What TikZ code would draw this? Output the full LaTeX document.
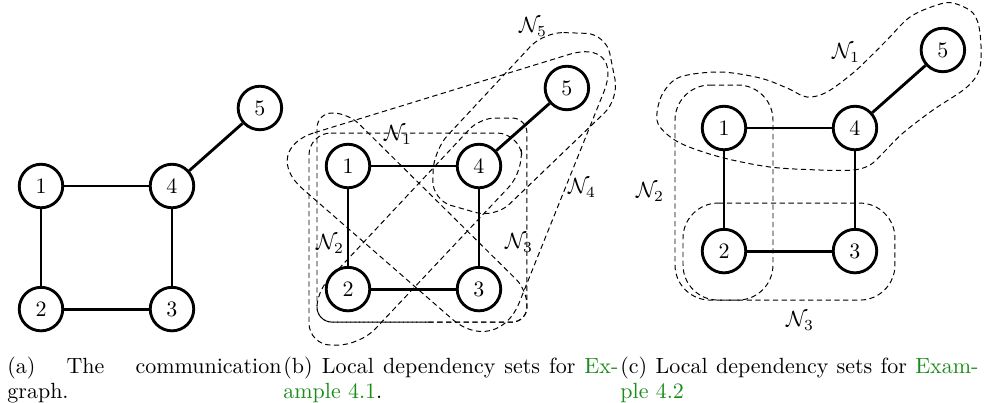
\documentclass[tikz,border=0pt]{standalone}
\usetikzlibrary{positioning,calc}
\definecolor{linkgreen}{rgb}{0.1,0.55,0.1}
\tikzset{
  vertex/.style={circle, draw, line width=1.3pt, minimum size=19.8pt, inner sep=0pt},
  link/.style={draw=black, line width=1.3pt},
  hull/.style={draw=black, line width=0.45pt, dash pattern=on 2.4pt off 1.6pt},
  setlabel/.style={inner sep=0pt},
  caption/.style={anchor=north west, inner sep=0pt, align=left},
}
\begin{document}
\begin{tikzpicture}[x=0.455pt, y=-0.455pt, node distance=56pt and 59.6pt, on grid]
  \useasboundingbox (0,0) rectangle (986,402);

  % (a) the communication graph
  \begin{scope}[every node/.style=vertex]
    \node (a1) at (41,186) {1};
    \node (a4) [right=of a1] {4};
    \node (a2) [below=of a1] {2};
    \node (a3) [right=of a2] {3};
    \node (a5) [above right=35.5pt and 40pt of a4] {5};
  \end{scope}
  \begin{scope}[every edge/.style=link]
    \path (a1) edge (a4);
    \path (a1) edge (a2);
    \path (a2) edge (a3);
    \path (a3) edge (a4);
    \path (a4) edge (a5);
  \end{scope}

  % (b) local dependency sets, example 4.1
  \begin{scope}[every node/.style=vertex]
    \node (b1) at (348,166) {1};
    \node (b4) [right=of b1] {4};
    \node (b2) [below=of b1] {2};
    \node (b3) [right=of b2] {3};
    \node (b5) [above right=35.5pt and 40pt of b4] {5};
  \end{scope}
  \begin{scope}[every edge/.style=link]
    \path (b1) edge (b4);
    \path (b1) edge (b2);
    \path (b2) edge (b3);
    \path (b3) edge (b4);
    \path (b4) edge (b5);
  \end{scope}
  % N1 = {1,2,4}
  \draw[hull, rounded corners=10pt] ($(b1)+(-39,-33)$) -- ($(b4)+(40,-33)$)
    -- ($(b4)+(45,5)$) -- ($(b2)+(12,56)$) -- ($(b2)+(-39,56)$) -- cycle;
  % N2 = {1,2,3}
  \draw[hull, rounded corners=6.8pt] ($(b2)!0.5!(b3)+(0,33)$) -- ($(b3)+(48,33)$)
    -- ($(b3)+(48,1)$) -- ($(b1)+(0,-53)$) -- ($(b1)+(-31,-53)$)
    -- ($(b2)+(-31,33)$) -- cycle;
  % N3 = {2,3,4}
  \draw[hull, rounded corners=6.8pt] ($(b2)!0.5!(b3)+(0,33)$) -- ($(b3)+(48,33)$)
    -- ($(b4)+(48,-48)$) -- ($(b4)+(1,-48)$) -- ($(b2)+(-31,3)$)
    -- ($(b2)+(-31,33)$) -- cycle;
  % N4 = {1,3,4,5}
  \draw[hull, rounded corners=27pt] ($(b1)+(-90,-16)$) -- ($(b5)+(59,-51)$)
    -- ($(b3)+(18,69)$) -- cycle;
  % N5 = {4,5}
  \draw[hull, rounded corners=9pt] ($(b5)+(-23,-56)$) -- ($(b5)+(39,-54)$)
    -- ($(b5)+(52,11)$) -- ($(b4)+(16,52)$) -- ($(b4)+(-47,34)$)
    -- ($(b4)+(-45,-16)$) -- cycle;
  \node[setlabel] (lb1) at (398,135) {$\mathcal{N}_1$};
  \node[setlabel] (lb2) at (330,244) {$\mathcal{N}_2$};
  \node[setlabel] (lb3) at (519,243) {$\mathcal{N}_3$};
  \node[setlabel] (lb4) at (582,188) {$\mathcal{N}_4$};
  \node[setlabel] (lb5) at (533,27) {$\mathcal{N}_5$};

  % (c) local dependency sets, example 4.2
  \begin{scope}[every node/.style=vertex]
    \node (c1) at (724,128) {1};
    \node (c4) [right=of c1] {4};
    \node (c2) [below=of c1] {2};
    \node (c3) [right=of c2] {3};
    \node (c5) [above right=35.5pt and 40pt of c4] {5};
  \end{scope}
  \begin{scope}[every edge/.style=link]
    \path (c1) edge (c4);
    \path (c1) edge (c2);
    \path (c2) edge (c3);
    \path (c3) edge (c4);
    \path (c4) edge (c5);
  \end{scope}
  % N1 = {1,4,5}
  \draw[hull] plot[smooth cycle, tension=0.55] coordinates {(680,77) (720,72)
    (760,78) (787,88) (807,97) (827,92) (853,73) (870,57) (887,40) (910,17)
    (937,5) (953,3) (973,13) (980,33) (980,67) (967,87) (933,110) (903,133)
    (883,153) (870,165) (853,170) (820,170) (770,167) (720,157) (680,143)
    (660,127) (657,113) (663,93)};
  % N2 = {1,2}
  \draw[hull, rounded corners=16pt] ($(c1)+(-49,-43)$) -- ($(c1)+(49,-43)$)
    -- ($(c2)+(49,49)$) -- ($(c2)+(-49,49)$) -- cycle;
  % N3 = {2,3}
  \draw[hull, rounded corners=16pt] ($(c2)+(-41,-48)$) -- ($(c3)+(40,-48)$)
    -- ($(c3)+(40,49)$) -- ($(c2)+(-41,49)$) -- cycle;
  \node[setlabel] (lc1) at (846,53) {$\mathcal{N}_1$};
  \node[setlabel] (lc2) at (650,192) {$\mathcal{N}_2$};
  \node[setlabel] (lc3) at (800,321) {$\mathcal{N}_3$};

  % captions
  \node[caption] (capa) at (7,357)
    {\hbox to 124.7pt{(a)\hfill The\hfill communication}\\[-1pt]graph.};
  \node[caption] (capb) at (283,357)
    {\hbox to 152.4pt{(b) Local dependency sets for \textcolor{linkgreen}{Ex-}}\\[-1pt]\textcolor{linkgreen}{ample 4.1}.};
  \node[caption] (capc) at (620,357)
    {\hbox to 162.9pt{(c) Local dependency sets for \textcolor{linkgreen}{Exam-}}\\[-1pt]\textcolor{linkgreen}{ple 4.2}};
\end{tikzpicture}
\end{document}
